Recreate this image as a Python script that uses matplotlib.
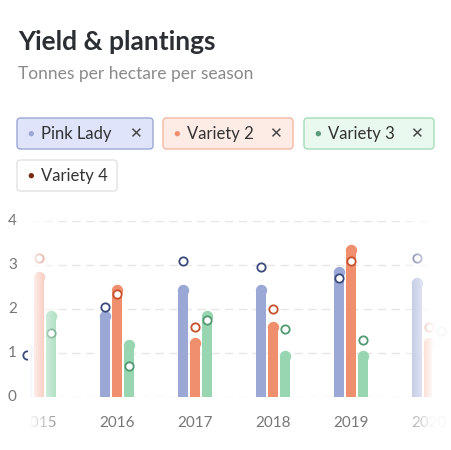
import matplotlib.pyplot as plt
import numpy as np
from matplotlib.patches import FancyBboxPatch

plt.rcParams['font.family'] = ['Lato', 'DejaVu Sans']

years = [2015, 2016, 2017, 2018, 2019, 2020]
pink_lady = [1.2, 1.95, 2.55, 2.55, 2.95, 2.7]
variety2 = [2.85, 2.55, 1.35, 1.7, 3.45, 1.35]
variety3 = [1.95, 1.3, 1.95, 1.05, 1.05, 1.2]
pink_lady_dots = [0.95, 2.05, 3.1, 2.95, 2.7, 3.15]
variety2_dots = [3.15, 2.35, 1.6, 2.0, 3.1, 1.6]
variety3_dots = [1.45, 0.7, 1.75, 1.55, 1.3, 1.5]

W, H = 452, 450
fig = plt.figure(figsize=(W / 100, H / 100), dpi=100)

def px(x0, y0, x1, y1):
    return [x0 / W, 1 - y1 / H, (x1 - x0) / W, (y1 - y0) / H]

fig.text(18 / W, 1 - 42 / H, 'Yield & plantings', fontsize=19, fontweight='bold',
         color='#2b2f33', va='center')
fig.text(18 / W, 1 - 74 / H, 'Tonnes per hectare per season', fontsize=12.5,
         color='#8a8a8a', va='center')

# legend chips
chips = [('Pink Lady', 17, 118, 153, '#dfe4fb', '#9aa7d6', '#9ba8d6', True),
         ('Variety 2', 163, 118, 293, '#fdece6', '#f3b8a3', '#f08f6e', True),
         ('Variety 3', 304, 118, 434, '#e9f9ef', '#a4dcb8', '#5c9c7a', True),
         ('Variety 4', 17, 160, 117, '#ffffff', '#e2e2e2', '#7a2a12', False)]
for name, x0, y0, x1, fc, ec, dc, active in chips:
    fig.patches.append(FancyBboxPatch((x0 / W, 1 - (y0 + 31) / H), (x1 - x0) / W, 31 / H,
                                      boxstyle='round,pad=0,rounding_size=0.008',
                                      transform=fig.transFigure, fc=fc, ec=ec, lw=1))
    yc = 1 - (y0 + 15.5) / H
    fig.text((x0 + 14) / W, yc, '\u25cf', color=dc, fontsize=8, va='center', ha='center')
    fig.text((x0 + 24) / W, yc, name, color='#333333', fontsize=12, va='center')
    if active:
        fig.text((x1 - 18) / W, yc, '\u2715', color='#444444', fontsize=11, va='center',
                 ha='center', family='DejaVu Sans')

ax = fig.add_axes(px(30, 221, 432, 397))
ax.set_xlim(2014.88, 2020.04)
ax.set_ylim(0, 4)
for s in ax.spines.values():
    s.set_visible(False)
ax.set_xticks([])
ax.set_yticks([])
for v in range(5):
    ax.axhline(v, color='#e6e6e6', lw=1, ls=(0, (6, 4)), zorder=0)
    fig.text(8 / W, 1 - (397 - v * 44) / H, str(v), color='#777777', fontsize=11,
             va='center')
for yr in years:
    ax.text(yr, -0.6, str(yr), color='#777777', fontsize=11, ha='center', va='center',
            clip_on=False)

off = 0.154
series = [(pink_lady, pink_lady_dots, -off, '#9ba8d6', '#3b4a7d'),
          (variety2, variety2_dots, 0, '#f08f6e', '#c8502c'),
          (variety3, variety3_dots, off, '#98d6b2', '#4f9a70')]
yr = np.array(years)
for vals, dots, dx, col, dcol in series:
    vals = np.array(vals)
    cap = 0.12
    ax.bar(yr + dx, vals - cap, width=0.13, color=col, zorder=2)
    ax.vlines(yr + dx, vals - cap, vals - cap, color=col, lw=7.2, capstyle='round', zorder=2)
    ax.plot(yr + dx, vals - cap, 'o', color=col, ms=7.2, zorder=2)
    ax.plot(yr + dx, dots, 'o', ms=6, mfc='white', mec=dcol, mew=1.3, zorder=3,
            clip_on=False)

# fade edges
fade = fig.add_axes(px(0, 205, W, 440))
fade.set_xlim(0, W)
fade.set_ylim(0, 1)
fade.axis('off')
grad = np.zeros((1, W, 4))
grad[..., :3] = 1
xs = np.arange(W)
a = np.zeros(W)
a[xs < 30] = 1
left = (xs >= 30) & (xs < 65)
a[left] = 1 - (xs[left] - 30) / 35
right = (xs > 395) & (xs <= 432)
a[right] = (xs[right] - 395) / 37
a[xs > 432] = 1
a[xs < 28] = 0  # keep y tick labels visible
grad[0, :, 3] = a * 0.95
fade.imshow(grad, extent=(0, W, 0, 1), aspect='auto', zorder=5)
# hide left labels region beyond axis start
fade.add_patch(plt.Rectangle((18, 0), 12, 0.12, color='white', zorder=6))

fig.savefig('out.png', dpi=100)
